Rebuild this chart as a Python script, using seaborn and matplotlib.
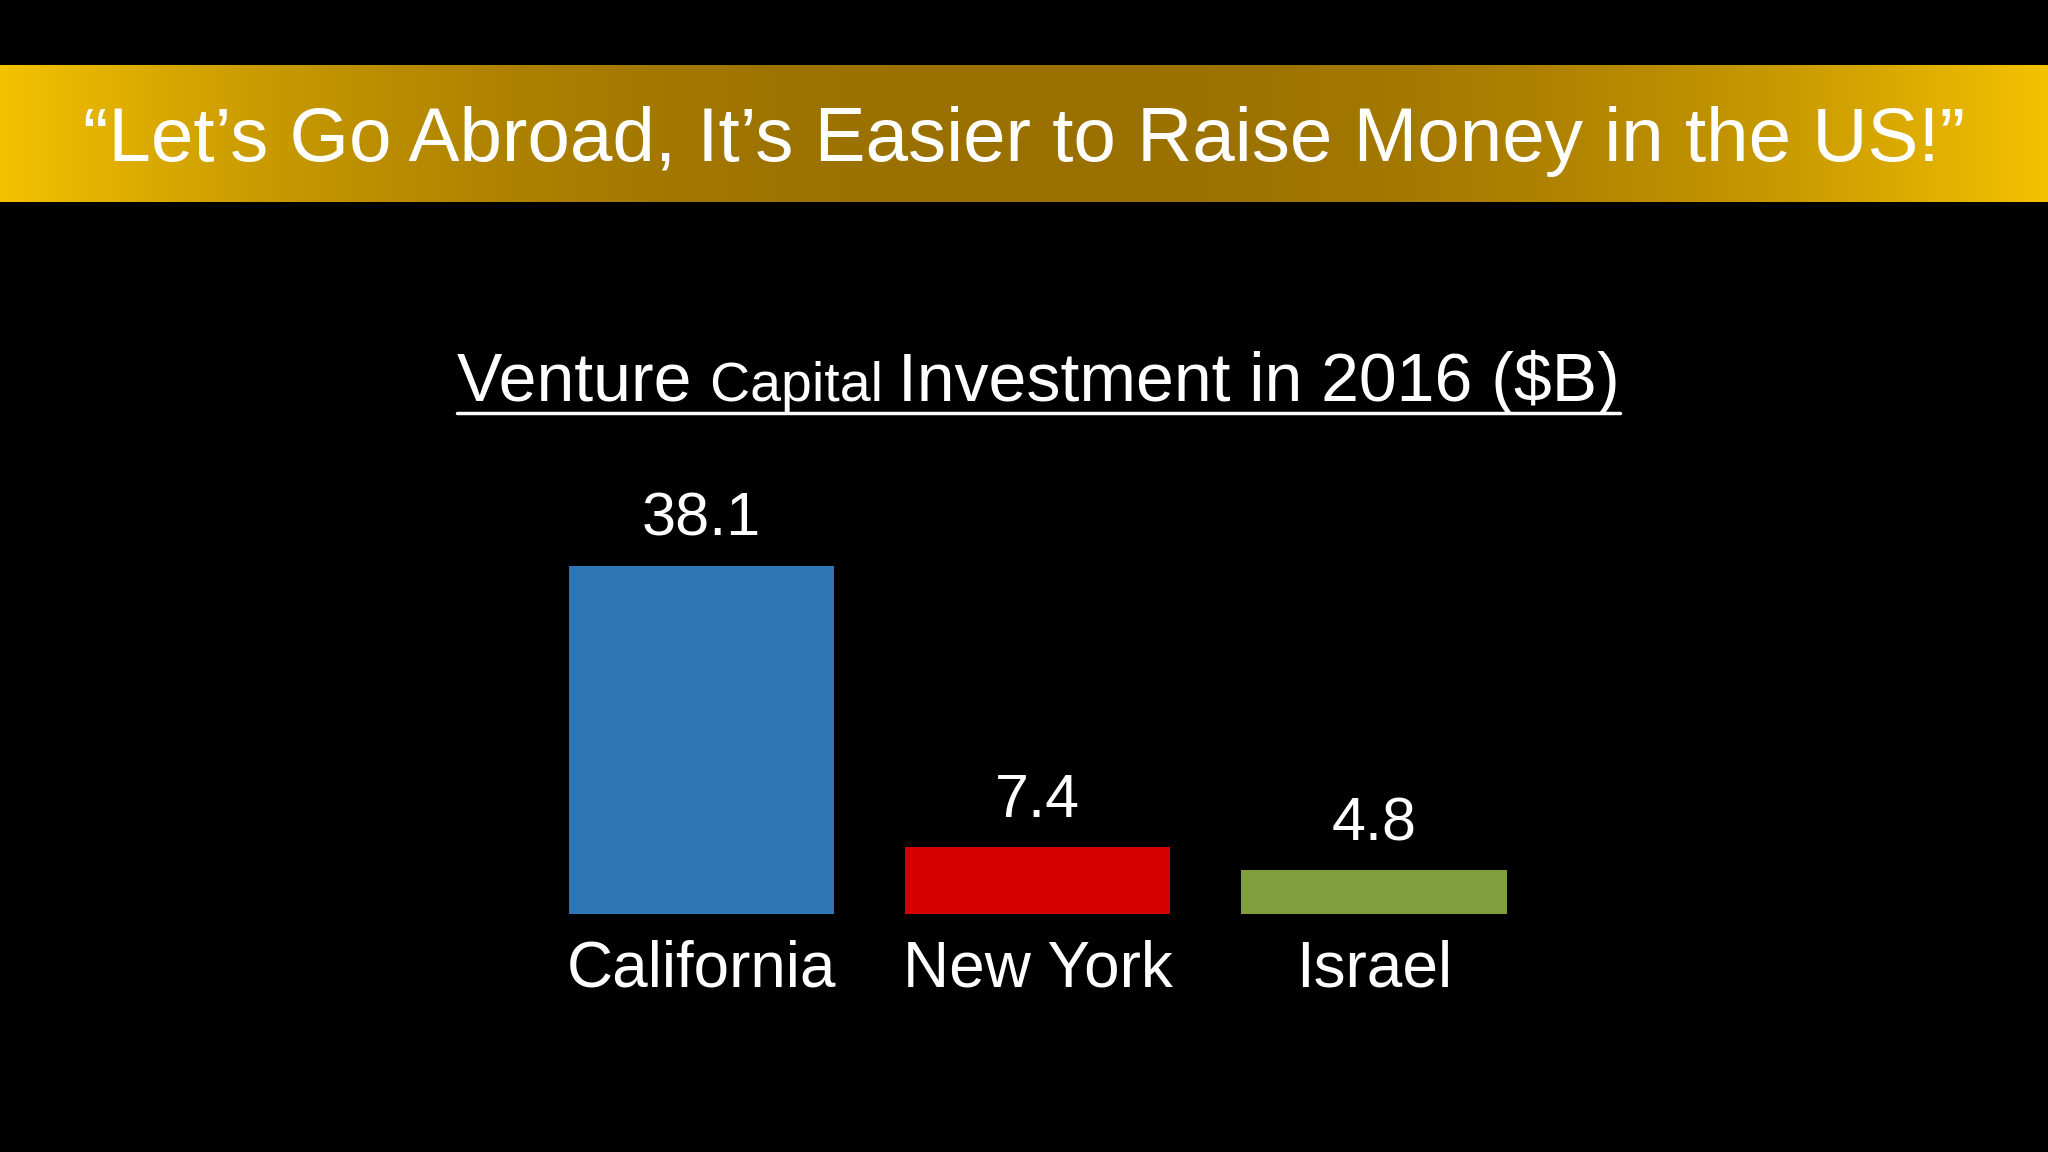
import matplotlib
matplotlib.use("Agg")
import matplotlib.pyplot as plt
import seaborn as sns
import numpy as np
import pandas as pd
from matplotlib.lines import Line2D

categories = ["California", "New York", "Israel"]
values = [38.1, 7.4, 4.8]
value_labels = ["38.1", "7.4", "4.8"]
colors = ["#2E75B6", "#D40000", "#7F9F3F"]
title = "“Let’s Go Abroad, It’s Easier to Raise Money in the US!”"

sns.set_theme(style="white")
plt.rcParams['font.family'] = ['Liberation Sans', 'DejaVu Sans']

fig = plt.figure(figsize=(20.48, 11.52), dpi=100, facecolor="black")

# banner gradient
bax = fig.add_axes([0, 1 - 155/882, 1, 105/882])
t = np.linspace(-1, 1, 512)
w = np.abs(t) ** 2.2
c1 = np.array([0x9a, 0x70, 0x00]) / 255
c2 = np.array([0xf5, 0xc2, 0x00]) / 255
grad = (c1[None, :] * (1 - w[:, None]) + c2[None, :] * w[:, None])[None, :, :]
bax.imshow(grad, aspect="auto", extent=[0, 1, 0, 1])
bax.axis("off")
fig.text(0.5, 1 - 108/882, title, ha="center", va="center", color="white", fontsize=55)

# subtitle with mixed sizes
fig.canvas.draw()
r = fig.canvas.get_renderer()
parts = [("Venture ", 49), ("Capital ", 40), ("Investment in 2016 ($B)", 49)]
ys = 1 - 307/882
texts = [fig.text(0, ys, s, color="white", fontsize=fs, va="baseline") for s, fs in parts]
widths = [tx.get_window_extent(r).width / fig.bbox.width for tx in texts]
x = 0.5 - sum(widths) / 2 + 0.007
x0 = x
for tx, wd in zip(texts, widths):
    tx.set_x(x)
    x += wd
fig.add_artist(Line2D([x0, x], [1 - 316/882] * 2, color="white", lw=2.5, transform=fig.transFigure))

ax = fig.add_axes([408.5/1568, 182/882, 772/1568, 267/882])
df = pd.DataFrame({"cat": categories, "val": values})
sns.barplot(data=df, x="cat", y="val", hue="cat", palette=colors, legend=False,
            width=0.79, saturation=1, linewidth=0, ax=ax)
ax.set_xlim(-0.5, 2.5)
ax.set_ylim(0, 38.1)
ax.set_facecolor("black")
ax.axis("off")
for i, (v, lab) in enumerate(zip(values, value_labels)):
    ax.annotate(lab, (i, v), xytext=(0, 12), textcoords="offset points",
                ha="center", va="bottom", color="white", fontsize=44)
    ax.annotate(categories[i], (i, 0), xytext=(0, -18), textcoords="offset points",
                ha="center", va="top", color="white", fontsize=46)

fig.savefig("out.png", facecolor="black")
